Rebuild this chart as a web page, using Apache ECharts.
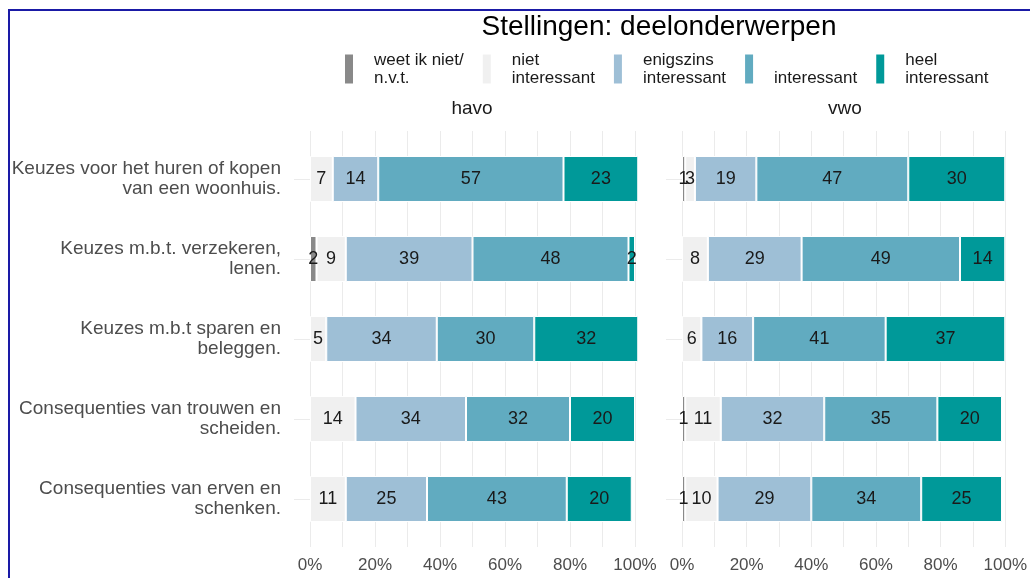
<!DOCTYPE html>
<html>
<head>
<meta charset="utf-8">
<script src="https://cdn.jsdelivr.net/npm/echarts@6/dist/echarts.min.js"></script>
<style>
  html, body { margin: 0; padding: 0; background: #ffffff; }
  #chart { width: 1030px; height: 578px; }
</style>
</head>
<body>
<div id="chart"></div>
<script>
// Statements (rows, top to bottom)
const statements = [
  'Keuzes voor het huren of kopen\nvan een woonhuis.',
  'Keuzes m.b.t. verzekeren,\nlenen.',
  'Keuzes m.b.t sparen en\nbeleggen.',
  'Consequenties van trouwen en\nscheiden.',
  'Consequenties van erven en\nschenken.'
];

// Answer levels (stack order, left to right)
const responseLevels = ['weet ik niet/ n.v.t.', 'niet interessant', 'enigszins interessant', 'interessant', 'heel interessant'];
const legendLabels = ['weet ik niet/\nn.v.t.', 'niet\ninteressant', 'enigszins\ninteressant', '\ninteressant', 'heel\ninteressant'];

// Panels
const panels = ['havo', 'vwo'];

// havo percentages per level
const havoWeetNiet    = [0, 2, 0, 0, 0];
const havoNiet        = [7, 9, 5, 14, 11];
const havoEnigszins   = [14, 39, 34, 34, 25];
const havoInteressant = [57, 48, 30, 32, 43];
const havoHeel        = [23, 2, 32, 20, 20];

// vwo percentages per level
const vwoWeetNiet    = [1, 0, 0, 1, 1];
const vwoNiet        = [3, 8, 6, 11, 10];
const vwoEnigszins   = [19, 29, 16, 32, 29];
const vwoInteressant = [47, 49, 41, 35, 34];
const vwoHeel        = [30, 14, 37, 20, 25];

// Labelled x ticks
const tickValues = [0, 20, 40, 60, 80, 100];

const levelColors = ['#898989', '#f0f0f0', '#9ebfd6', '#61abc0', '#009999'];
const gridColor = '#ebebeb';
const fontFamily = '"Liberation Sans", Arial, sans-serif';

const panelValues = [
  [havoWeetNiet, havoNiet, havoEnigszins, havoInteressant, havoHeel],
  [vwoWeetNiet, vwoNiet, vwoEnigszins, vwoInteressant, vwoHeel]
];

const gridBoxes = [
  { left: 310, top: 139, width: 325, height: 400 },
  { left: 682, top: 139, width: 325, height: 400 }
];

const xAxes = [];
const yAxes = [];
const series = [];

panels.forEach((panel, gi) => {
  // bottom axis: labels, gridlines and short outward stubs
  xAxes.push({
    type: 'value', gridIndex: gi, position: 'bottom',
    min: 0, max: 100, interval: 10,
    axisLine: { show: false },
    axisTick: { show: true, length: 8, lineStyle: { color: gridColor, width: 1 } },
    splitLine: { show: true, lineStyle: { color: gridColor, width: 1 } },
    axisLabel: {
      margin: 18, color: '#4d4d4d', fontSize: 17, fontFamily,
      formatter: v => tickValues.includes(v) ? v + '%' : ''
    }
  });
  // top axis: only the upward stubs of the gridlines
  xAxes.push({
    type: 'value', gridIndex: gi, position: 'top',
    min: 0, max: 100, interval: 10,
    axisLine: { show: false },
    axisTick: { show: true, length: 8, lineStyle: { color: gridColor, width: 1 } },
    splitLine: { show: false },
    axisLabel: { show: false }
  });
  // left category axis
  yAxes.push({
    type: 'category', gridIndex: gi, position: 'left', inverse: true,
    data: statements,
    axisLine: { show: false },
    axisTick: { show: true, alignWithLabel: true, length: 16, lineStyle: { color: gridColor, width: 1 } },
    axisLabel: {
      show: gi === 0, interval: 0, margin: 29, color: '#4d4d4d',
      fontSize: 19, lineHeight: 20, fontFamily, align: 'right'
    }
  });
  // right category axis: horizontal gridline stubs on the right
  yAxes.push({
    type: 'category', gridIndex: gi, position: 'right', inverse: true,
    data: statements,
    axisLine: { show: false },
    axisTick: { show: true, alignWithLabel: true, length: 16, lineStyle: { color: gridColor, width: 1 } },
    axisLabel: { show: false }
  });

  responseLevels.forEach((level, k) => {
    series.push({
      name: level,
      type: 'bar',
      stack: panel,
      xAxisIndex: gi * 2,
      yAxisIndex: gi * 2,
      barWidth: 46,
      clip: false,
      data: panelValues[gi][k].map(v => v > 0 ? v : '-'),
      itemStyle: { color: levelColors[k], borderColor: '#ffffff', borderWidth: 1 },
      label: {
        show: true, position: 'inside', color: '#1a1a1a',
        fontSize: 18, fontFamily, formatter: p => String(p.value)
      },
      emphasis: { disabled: true }
    });
  });
});

const chart = echarts.init(document.getElementById('chart'), null, { renderer: 'canvas' });
chart.setOption({
  animation: false,
  textStyle: { fontFamily },
  title: [
    { text: 'Stellingen: deelonderwerpen', left: 654, top: 8, textAlign: 'center',
      textStyle: { fontSize: 28, fontWeight: 'normal', color: '#000000', fontFamily } },
    { text: 'havo', left: 467, top: 94, textAlign: 'center',
      textStyle: { fontSize: 19, fontWeight: 'normal', color: '#1a1a1a', fontFamily } },
    { text: 'vwo', left: 840, top: 94, textAlign: 'center',
      textStyle: { fontSize: 19, fontWeight: 'normal', color: '#1a1a1a', fontFamily } }
  ],
  legend: {
    data: responseLevels,
    left: 343, top: 51, padding: 0,
    icon: 'rect', itemWidth: 10, itemHeight: 31, itemGap: 17,
    selectedMode: false,
    formatter: name => legendLabels[responseLevels.indexOf(name)],
    textStyle: { fontSize: 17, lineHeight: 18, color: '#1a1a1a', fontFamily, padding: [0, 0, 0, 15] }
  },
  grid: gridBoxes.map(b => Object.assign({ containLabel: false }, b)),
  xAxis: xAxes,
  yAxis: yAxes,
  series,
  graphic: [{
    type: 'rect', silent: true, z: 100,
    shape: { x: 9, y: 10, width: 1200, height: 800 },
    style: { fill: 'none', stroke: '#1a1aa6', lineWidth: 2 }
  }]
});
</script>
</body>
</html>
